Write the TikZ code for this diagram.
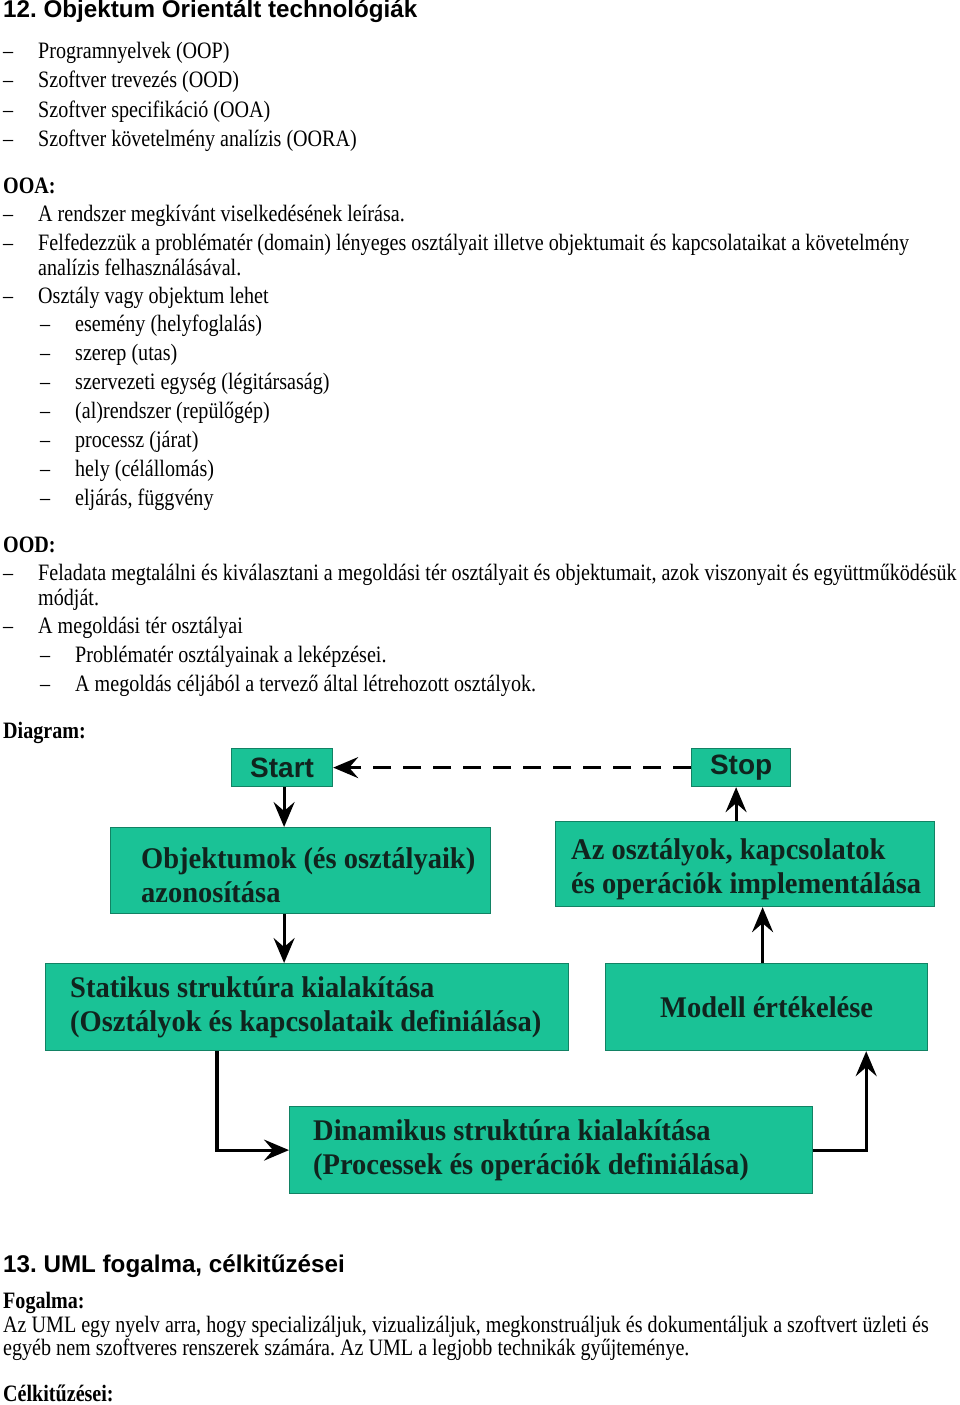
\documentclass[tikz,border=0pt]{standalone}
\usepackage{fontspec}
\setmainfont{Liberation Serif}
\newfontfamily\bodyf[FakeStretch=0.855]{Liberation Serif}
\newfontfamily\headf{Liberation Sans}
\newfontfamily\boxf[FakeStretch=0.95]{Liberation Serif}
\usetikzlibrary{arrows.meta}
\definecolor{boxfill}{RGB}{26,194,150}
\definecolor{boxline}{RGB}{18,130,100}
\definecolor{boxtext}{RGB}{16,36,30}
\newcommand\bitem[5]{%
  \node[txt] (#1d) at (#2,#4) {–};
  \node[txt] (#1) at (#3,#4) {#5};}
\frenchspacing
\begin{document}
\begin{tikzpicture}[x=1pt,y=-1pt,
  txt/.style={anchor=base west, inner sep=0, font=\bodyf\fontsize{23.5}{28}\selectfont},
  hd/.style={anchor=base west, inner sep=0, font=\bodyf\bfseries\fontsize{23.5}{28}\selectfont},
  ttl/.style={anchor=base west, inner sep=0, font=\headf\bfseries\fontsize{24.2}{28}\selectfont},
  box/.style={draw=boxline, line width=1.2pt, fill=boxfill, anchor=north west, inner sep=0},
  btxt/.style={anchor=west, inner sep=0, align=left, text=boxtext, font=\boxf\bfseries\fontsize{30}{34}\selectfont},
  sstxt/.style={box, text=boxtext, font=\headf\bfseries\fontsize{28}{32}\selectfont},
  arr/.style={line width=3.2pt, -{Stealth[length=25pt,width=21pt,inset=9pt]}},
]
\useasboundingbox (0,0) rectangle (960,1405);

% Section 12
\node[ttl] (t12) at (3,18) {12. Objektum Orientált technológiák};
\bitem{a1}{3}{38}{59}{Programnyelvek (OOP)}
\bitem{a2}{3}{38}{88}{Szoftver trevezés (OOD)}
\bitem{a3}{3}{38}{117}{Szoftver specifikáció (OOA)}
\bitem{a4}{3}{38}{146}{Szoftver követelmény analízis (OORA)}

\node[hd] (ooa) at (3,193) {OOA:};
\bitem{b1}{3}{38}{221}{A rendszer megkívánt viselkedésének leírása.}
\bitem{b2}{3}{38}{250}{Felfedezzük a problématér (domain) lényeges osztályait illetve objektumait és kapcsolataikat a követelmény}
\node[txt] (b2b) at (38,275) {analízis felhasználásával.};
\bitem{b3}{3}{38}{303}{Osztály vagy objektum lehet}
\bitem{c1}{40}{75}{331}{esemény (helyfoglalás)}
\bitem{c2}{40}{75}{360}{szerep (utas)}
\bitem{c3}{40}{75}{389}{szervezeti egység (légitársaság)}
\bitem{c4}{40}{75}{418}{(al)rendszer (repülőgép)}
\bitem{c5}{40}{75}{447}{processz (járat)}
\bitem{c6}{40}{75}{476}{hely (célállomás)}
\bitem{c7}{40}{75}{505}{eljárás, függvény}

\node[hd] (ood) at (3,552) {OOD:};
\bitem{e1}{3}{38}{580}{Feladata megtalálni és kiválasztani a megoldási tér osztályait és objektumait, azok viszonyait és együttműködésük}
\node[txt] (e1b) at (38,605) {módját.};
\bitem{e2}{3}{38}{633}{A megoldási tér osztályai}
\bitem{f1}{40}{75}{662}{Problématér osztályainak a leképzései.}
\bitem{f2}{40}{75}{691}{A megoldás céljából a tervező által létrehozott osztályok.}

\node[hd] (diag) at (3,738) {Diagram:};

% Diagram
\node[sstxt, minimum width=101pt, minimum height=38pt] (start) at (231,748) {Start};
\node[sstxt, minimum width=99pt, minimum height=38pt] (stop) at (691,748) {Stop};

\node[box, minimum width=380pt, minimum height=86pt] (bx1) at (110,827) {};
\node[btxt] (bx1t) at ([xshift=31pt,yshift=-5pt]bx1.west) {Objektumok (és osztályaik)\\azonosítása};

\node[box, minimum width=379pt, minimum height=85pt] (bx2) at (555,821) {};
\node[btxt] (bx2t) at ([xshift=16pt,yshift=-5pt]bx2.west) {Az osztályok, kapcsolatok\\és operációk implementálása};

\node[box, minimum width=523pt, minimum height=87pt] (bx3) at (45,963) {};
\node[btxt] (bx3t) at ([xshift=25pt]bx3.west) {Statikus struktúra kialakítása\\(Osztályok és kapcsolataik definiálása)};

\node[box, minimum width=322pt, minimum height=87pt] (bx4) at (605,963) {};
\node[btxt, anchor=center] (bx4t) at (bx4.center) {Modell értékelése};

\node[box, minimum width=523pt, minimum height=87pt] (bx5) at (289,1106) {};
\node[btxt] (bx5t) at ([xshift=24pt]bx5.west) {Dinamikus struktúra kialakítása\\(Processek és operációk definiálása)};

% Connectors
\draw[arr, dash pattern=on 18pt off 12pt] (stop.west) -- (start.east);
\draw[arr] ([xshift=2pt]start.south) -- ([xshift=2pt]start.south |- bx1.north);
\draw[arr] ([xshift=2pt]bx1.south -| start.south) -- ([xshift=2pt]bx3.north -| start.south);
\draw[arr] ([xshift=-5pt]bx2.north -| stop.south) -- ([xshift=-5pt]stop.south);
\draw[arr] ([xshift=-4pt]bx4.north) -- ([xshift=-4pt]bx4.north |- bx2.south);
\draw[arr] ([xshift=172pt]bx3.south west) |- (bx5.west);
\draw[arr] (bx5.east) -| ([xshift=-62pt]bx4.south east);

% Section 13
\node[ttl] (t13) at (3,1272) {13. UML fogalma, célkitűzései};
\node[hd] (fog) at (3,1308) {Fogalma:};
\node[txt] (g1) at (3,1332) {Az UML egy nyelv arra, hogy specializáljuk, vizualizáljuk, megkonstruáljuk és dokumentáljuk a szoftvert üzleti és};
\node[txt] (g2) at (3,1355) {egyéb nem szoftveres renszerek számára. Az UML a legjobb technikák gyűjteménye.};
\node[hd] (cel) at (3,1401) {Célkitűzései:};
\end{tikzpicture}
\end{document}
